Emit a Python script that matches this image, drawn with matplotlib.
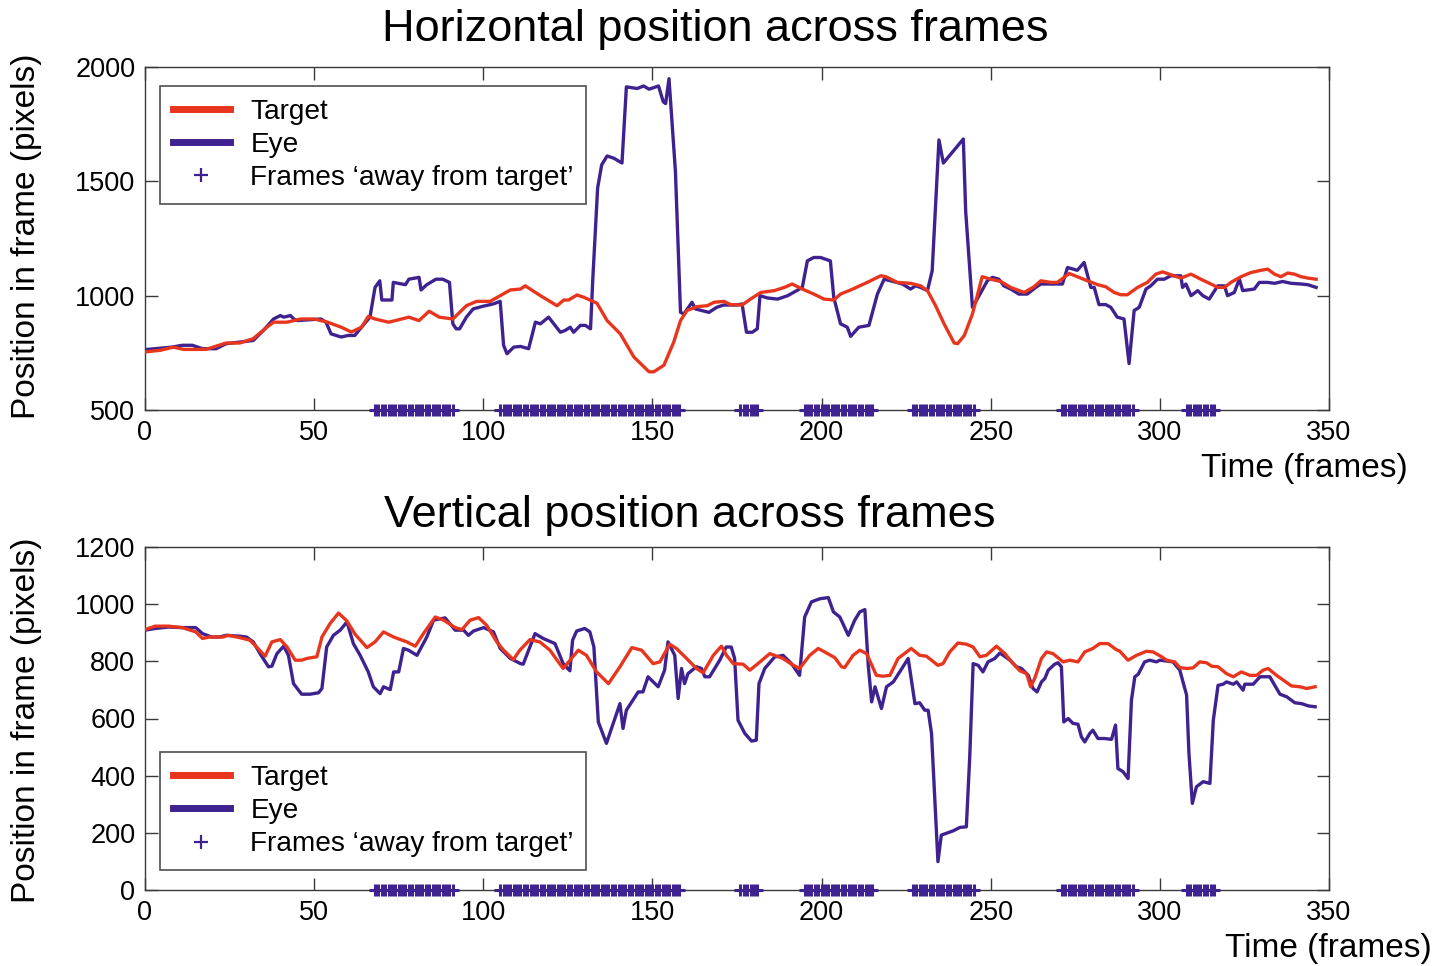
import numpy as np
import matplotlib
matplotlib.use("Agg")
import matplotlib.pyplot as plt
from matplotlib.lines import Line2D

plt.rcParams['font.family'] = ['Liberation Sans', 'DejaVu Sans']

# ---------------- data (frame, value) vertices ----------------
h_eye_f = [0, 8, 11, 14, 17, 21, 24, 28, 32, 35, 38, 40, 41, 43, 44, 45, 48, 52, 53.5, 55, 56.5, 58, 60, 62, 64,
           66.5, 68, 69.4, 70, 73, 73.4, 77, 78, 81, 81.6, 83.3, 86, 88, 90, 91, 92, 93, 95, 97, 100, 103, 105,
           106, 107, 109, 111, 113.4, 115.4, 116.9, 119.3, 122.8, 124.2, 125.7, 126.7, 128.7, 130.2, 131.7,
           132.4, 133.8, 135, 136.6, 138.6, 141, 142.3, 145.5, 147.4, 149, 151.8, 153.2, 153.9, 154.9, 156.8,
           158.3, 159.3, 161.7, 162.7, 166.7, 169, 171, 175, 176.5, 177.8, 179.5, 181, 181.8, 184, 187, 190,
           193, 194.3, 195.8, 197.7, 199.7, 202.6, 203.6, 205.6, 207.6, 208.6, 211, 214, 216.5, 218.5, 220.4,
           223.9, 226.3, 227.8, 229.3, 231.3, 232.7, 234.7, 236, 241.9, 242.6, 244.6, 246, 249, 250.5, 252.4,
           253.9, 255.9, 258.3, 260.8, 263.3, 264.8, 271.2, 272.7, 275.6, 277.6, 279.6, 280.6, 282, 284, 285.5,
           287.4, 289.4, 290.9, 292.4, 293.9, 295.9, 297.3, 299.3, 301.3, 303.2, 306.2, 306.7, 307.7, 309.2,
           311.2, 312.7, 314.6, 317.1, 319.1, 320, 322, 323.5, 324.5, 327.9, 329.4, 331.9, 333.9, 336.3, 338.8,
           341.7, 343.7, 346.2]
h_eye_v = [764, 775, 783, 783, 768, 768, 790, 797, 804, 848, 898, 913, 906, 913, 898, 891, 894, 898, 884, 833, 826,
           819, 826, 826, 862, 906, 1036, 1065, 981, 981, 1058, 1048, 1072, 1080, 1025, 1048, 1072, 1072, 1058,
           877, 855, 855, 906, 942, 954, 964, 975, 783, 746, 775, 778, 768, 884, 877, 906, 840, 848, 862, 840, 870,
           870, 855, 1080, 1471, 1572, 1611, 1601, 1580, 1913, 1906, 1917, 1903, 1917, 1848, 1840, 1949, 1543,
           927, 920, 971, 942, 927, 949, 959, 959, 964, 840, 840, 855, 1000, 990, 985, 1000, 1025, 1036, 1152,
           1167, 1167, 1152, 993, 877, 862, 822, 862, 870, 1007, 1072, 1065, 1051, 1029, 1043, 1036, 1022, 1109,
           1681, 1580, 1685, 1369, 949, 985, 1065, 1080, 1072, 1043, 1029, 1007, 1007, 1036, 1051, 1051, 1123,
           1111, 1145, 1036, 1036, 961, 961, 949, 906, 898, 703, 935, 949, 1029, 1043, 1072, 1072, 1087, 1087,
           1036, 1051, 1000, 1022, 1000, 985, 1043, 1043, 1000, 1014, 1072, 1022, 1029, 1058, 1058, 1054, 1062,
           1054, 1051, 1048, 1036]

h_tgt_f = [0, 4.5, 8.4, 11.4, 18, 24, 28, 32, 36, 38, 42, 46, 50, 54, 58, 61, 64, 66, 68, 72, 74, 78, 81, 84, 87,
           91, 95, 98, 102, 105, 108, 111, 112.4, 116.9, 121.8, 123.8, 125.2, 127.7, 129.7, 133.6, 136.6, 140.5,
           144.5, 149, 150.4, 153.4, 156.3, 158.3, 160.2, 163.2, 166.2, 168.2, 171.1, 173.1, 176.5, 179, 182,
           186, 189, 191.3, 194.3, 197.7, 200.7, 203.6, 205.6, 208.6, 213.5, 217.5, 219, 222.4, 226.3, 229.3,
           231.3, 233.7, 236.2, 239.2, 240.2, 242.2, 244.6, 247.5, 250, 253, 255.9, 259.9, 262.8, 264.8, 267.8,
           269.7, 273.2, 276.1, 278.6, 281.6, 284, 286.5, 288.4, 290.4, 293.4, 296.3, 298.8, 300.8, 304.2,
           306.2, 309.2, 312.1, 315.1, 317.1, 319.1, 321, 324, 326.9, 329.9, 331.9, 333.9, 335.8, 337.8, 339.8,
           341.7, 343.7, 346.2]
h_tgt_v = [754, 761, 775, 765, 765, 793, 793, 812, 862, 884, 884, 898, 898, 884, 862, 841, 862, 909, 898, 884, 891,
           906, 891, 932, 906, 898, 956, 975, 975, 1000, 1025, 1029, 1043, 1000, 956, 981, 981, 1003, 993, 967,
           891, 833, 732, 667, 667, 696, 797, 891, 935, 952, 956, 971, 975, 961, 959, 985, 1014, 1022, 1036,
           1051, 1029, 1007, 985, 981, 1007, 1025, 1058, 1087, 1083, 1058, 1054, 1043, 1022, 956, 877, 793, 790,
           826, 920, 1083, 1072, 1062, 1036, 1014, 1039, 1065, 1058, 1058, 1097, 1080, 1065, 1048, 1039, 1014,
           1004, 1004, 1036, 1058, 1094, 1104, 1087, 1077, 1094, 1072, 1051, 1036, 1036, 1058, 1083, 1101, 1111,
           1116, 1094, 1083, 1099, 1094, 1083, 1077, 1072]

v_eye_f = [0, 3, 7, 11, 15, 17, 19.7, 22, 24, 28, 30, 32, 34, 36.5, 37.5, 39, 41, 42.4, 43.9, 46.3, 48.8, 51.3,
           52.3, 53.7, 55.7, 57.7, 59.7, 61.6, 63.6, 66, 67.5, 69.5, 70.5, 72.5, 73.5, 75, 76.4, 77.9, 80.4,
           83.3, 85.3, 88.7, 91.7, 94.2, 95.6, 97.1, 100.1, 103, 105, 108, 111, 111.8, 115.3, 117.7, 121.2,
           123.6, 125.6, 126.4, 127.6, 130, 131.5, 132.7, 134, 136.4, 140.4, 141.3, 142.3, 145.8, 147.2, 148.7,
           151.7, 153.6, 154.6, 156.6, 157.6, 158.6, 159.5, 160.5, 163, 164.5, 165.5, 166.9, 169.9, 171.8,
           173.3, 174.3, 175.3, 177.3, 179.3, 180.7, 181.5, 183.2, 186.1, 188.6, 191.1, 193.5, 195, 197, 199.5,
           202, 203.5, 205.4, 207.9, 209.8, 211.3, 212.8, 213.8, 214.8, 215.8, 217.7, 219.2, 221.2, 223.1,
           225.6, 227.6, 229, 230.5, 231.5, 232.5, 234.4, 235.4, 238.9, 240.9, 242.8, 243.8, 244.8, 246.3,
           247.7, 249.2, 251.2, 252.7, 253.7, 255.7, 257.6, 259.1, 261.1, 262.5, 263.7, 265, 266, 267, 268.9,
           269.9, 270.9, 271.6, 272.9, 274.3, 275.8, 276.8, 277.8, 279.3, 280.2, 281.7, 283.7, 285.7, 286.9,
           287.6, 289.1, 290.6, 291.6, 292.6, 293.6, 295.5, 297, 299, 300, 303.9, 305.9, 307.9, 308.6, 309.6,
           310.8, 312.8, 314.8, 315.8, 317.2, 318.7, 319.7, 321.7, 322.7, 323.8, 324.6, 325.1, 327.6, 329.6,
           332.5, 335.5, 337.5, 339.9, 341.9, 343.9, 345.9]
v_eye_v = [909, 915, 920, 918, 918, 897, 885, 885, 891, 888, 885, 868, 827, 781, 783, 827, 853, 821, 722, 685, 685,
           690, 705, 850, 891, 909, 938, 862, 821, 763, 711, 687, 711, 701, 763, 763, 845, 839, 821, 885, 944,
           952, 909, 909, 891, 906, 918, 903, 845, 810, 792, 790, 897, 880, 862, 792, 767, 874, 906, 915, 903,
           850, 588, 513, 652, 565, 629, 693, 693, 746, 711, 769, 868, 821, 670, 775, 722, 757, 781, 775, 746,
           746, 804, 850, 850, 810, 594, 548, 521, 524, 722, 775, 815, 821, 792, 751, 955, 1008, 1019, 1023, 973,
           955, 891, 944, 973, 981, 786, 658, 711, 635, 711, 728, 763, 810, 652, 655, 629, 629, 548, 99, 192, 207,
           219, 221, 466, 792, 786, 763, 798, 810, 829, 821, 804, 781, 775, 751, 705, 693, 728, 740, 769, 790,
           795, 781, 588, 600, 583, 580, 536, 518, 548, 559, 530, 530, 527, 577, 425, 414, 390, 664, 746, 755,
           798, 804, 798, 804, 798, 769, 682, 478, 303, 361, 379, 373, 594, 716, 720, 728, 720, 728, 711, 699,
           720, 720, 746, 746, 685, 676, 655, 652, 644, 641]

v_tgt_f = [0, 3, 7, 11, 15, 17, 19, 23, 24.6, 28, 31, 33, 35.5, 37.5, 40, 42, 44.4, 46.3, 47.8, 50.8, 52.3, 54.7,
           57.2, 59.7, 62.1, 65.6, 68, 70.5, 73.5, 77.4, 79.9, 82.3, 85.8, 88.3, 91.7, 93.7, 96.1, 98.6, 101,
           104, 106, 108.9, 110.8, 113.8, 116.7, 119.7, 123.6, 128.1, 130.5, 133.5, 137, 140.4, 143.9, 146.8,
           150.2, 152.2, 155.1, 157.1, 160.1, 163, 165, 168, 170.4, 171.9, 173.9, 176.8, 178.8, 181.8, 184.7,
           188.6, 191.1, 193.5, 196.5, 199, 200.9, 203.9, 205.9, 206.8, 209.3, 211.3, 213.3, 216.2, 218.2,
           220.2, 222.6, 226.5, 229, 231, 234.4, 235.9, 237.9, 240.3, 242.8, 244.8, 246.8, 248.7, 251.7, 254.2,
           256.6, 258.6, 260.6, 261.8, 263, 265, 266.5, 268.4, 271.4, 273.4, 275.8, 277.8, 280.2, 282.2, 284.7,
           287.1, 288.1, 290.6, 293.1, 296, 298, 300.5, 302, 304.4, 305.9, 307.9, 309.8, 311.8, 313.8, 315.3,
           317.2, 319.7, 321.7, 324.1, 326.6, 328.6, 330.5, 332, 334.5, 336.5, 338.9, 341.4, 343.4, 345.9]
v_tgt_v = [911, 923, 923, 918, 903, 880, 885, 885, 891, 883, 874, 850, 818, 868, 876, 850, 804, 804, 810, 816, 885,
           932, 969, 941, 895, 848, 868, 903, 885, 868, 853, 897, 955, 944, 918, 911, 944, 953, 926, 868, 839,
           806, 839, 876, 868, 839, 775, 839, 821, 763, 722, 781, 848, 839, 792, 798, 860, 845, 810, 775, 760,
           821, 853, 821, 792, 790, 769, 798, 827, 810, 790, 775, 821, 845, 833, 813, 781, 778, 821, 839, 827,
           751, 748, 751, 810, 845, 821, 818, 786, 792, 833, 864, 860, 850, 816, 821, 853, 827, 792, 767, 757,
           711, 740, 810, 833, 827, 798, 804, 798, 833, 845, 862, 862, 841, 836, 804, 821, 835, 833, 816, 804,
           798, 778, 775, 777, 798, 795, 783, 781, 757, 746, 763, 751, 751, 769, 775, 751, 734, 714, 711, 705,
           711]

# frame ranges (inclusive) flagged as 'away from target'
away_ranges = [(68, 91), (105, 158), (176, 181), (195, 215), (227, 245), (271, 292), (308, 316)]

x_ticks = [0, 50, 100, 150, 200, 250, 300, 350]
h_yticks = [500, 1000, 1500, 2000]
v_yticks = [0, 200, 400, 600, 800, 1000, 1200]

# ---------------- styling ----------------
RED = '#E8361E'
PURPLE = '#3E2290'
SPINE = '#3a3a3a'

W, H = 1451, 966
fig = plt.figure(figsize=(W / 100, H / 100), dpi=100)

def px_box(l, t, r, b):
    return [l / W, 1 - b / H, (r - l) / W, (b - t) / H]

ax1 = fig.add_axes(px_box(145, 67, 1329, 410))
ax2 = fig.add_axes(px_box(145, 547, 1329, 890))

away_frames = np.concatenate([np.arange(a, b + 1) for a, b in away_ranges])

def style(ax, yticks, ylim):
    ax.set_xlim(0, 350)
    ax.set_ylim(*ylim)
    ax.set_xticks(x_ticks)
    ax.set_yticks(yticks)
    ax.tick_params(direction='in', length=9, width=1.0, color=SPINE, labelsize=19.5,
                   top=True, right=True, pad=7)
    for s in ax.spines.values():
        s.set_color(SPINE)
        s.set_linewidth(1.0)

def draw(ax, tf, tv, ef, ev, ybase, yticks, ylim, legend_anchor, legend_loc):
    ax.plot(tf, tv, color=RED, lw=2.4, zorder=3)
    ax.plot(ef, ev, color=PURPLE, lw=2.4, zorder=2)
    ax.plot(away_frames, np.full(len(away_frames), ybase), linestyle='none', marker='+',
            color=PURPLE, ms=8, mew=2.2, clip_on=False, zorder=4)
    style(ax, yticks, ylim)
    handles = [Line2D([], [], color=RED, lw=5),
               Line2D([], [], color=PURPLE, lw=5),
               Line2D([], [], color=PURPLE, lw=0, marker='+', ms=10, mew=1.6)]
    leg = ax.legend(handles, ['Target', 'Eye', 'Frames \u2018away from target\u2019'],
                    loc=legend_loc, bbox_to_anchor=legend_anchor, borderaxespad=0,
                    fontsize=20.2, frameon=True, fancybox=False, handlelength=2.05,
                    handletextpad=0.72, labelspacing=0.26, borderpad=0.45)
    leg.get_frame().set_edgecolor('#222222')
    leg.get_frame().set_linewidth(1.2)

draw(ax1, h_tgt_f, h_tgt_v, h_eye_f, h_eye_v, 500, h_yticks, (500, 2000),
     (15 / 1184, 1 - 19 / 343), 'upper left')
draw(ax2, v_tgt_f, v_tgt_v, v_eye_f, v_eye_v, 0, v_yticks, (0, 1200),
     (15 / 1184, 20 / 343), 'lower left')

# titles and labels
fig.text(715 / W, 1 - 29 / H, 'Horizontal position across frames', ha='center', va='center', fontsize=32.5)
fig.text(690 / W, 1 - 515 / H, 'Vertical position across frames', ha='center', va='center', fontsize=32.5)
fig.text(27 / W, 1 - 236 / H, 'Position in frame (pixels)', rotation=90, ha='center', va='center', fontsize=24)
fig.text(27 / W, 1 - 720 / H, 'Position in frame (pixels)', rotation=90, ha='center', va='center', fontsize=24)
fig.text(1408 / W, 1 - 468 / H, 'Time (frames)', ha='right', va='center', fontsize=24)
fig.text(1432 / W, 1 - 948 / H, 'Time (frames)', ha='right', va='center', fontsize=24)

fig.savefig('out.png', dpi=100)
